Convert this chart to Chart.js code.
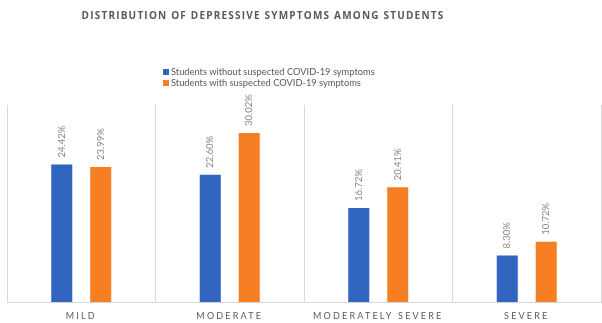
<!DOCTYPE html>
<html>
<head>
<meta charset="utf-8">
<script src="https://cdn.jsdelivr.net/npm/chart.js@4"></script>
<style>
    html, body { margin: 0; padding: 0; background: #fff; overflow: hidden; }
    #wrap { position: relative; width: 602px; height: 323px; }
    #title {
        position: absolute; left: 0; width: 526px; top: 8px;
        text-align: center; font: bold 10px "Open Sans", sans-serif;
        letter-spacing: 1.2px; color: #595959; white-space: nowrap;
    }
    #legend {
        position: absolute; left: 163px; top: 66px;
        font: 9.3px Lato, sans-serif; color: #595959; line-height: 11px;
    }
    #legend div { white-space: nowrap; }
    #legend span.box { display: inline-block; width: 6px; height: 6px; margin-right: 2px; vertical-align: 0px; }
</style>
</head>
<body>
<div id="wrap">
    <canvas id="chart" width="602" height="323"></canvas>
    <div id="title">DISTRIBUTION OF DEPRESSIVE SYMPTOMS AMONG STUDENTS</div>
    <div id="legend"></div>
</div>
<script>
    const categories = ["MILD", "MODERATE", "MODERATELY SEVERE", "SEVERE"];
    const withoutSymptoms = [24.42, 22.60, 16.72, 8.30];
    const withSymptoms = [23.99, 30.02, 20.41, 10.72];
    const seriesNames = ["Students without suspected COVID-19 symptoms", "Students with suspected COVID-19 symptoms"];
    const seriesColors = ["#3165c0", "#f57f22"];

    // simple html legend, one item per line
    const legendEl = document.getElementById("legend");
    seriesNames.forEach((name, i) => {
        const row = document.createElement("div");
        const box = document.createElement("span");
        box.className = "box";
        box.style.background = seriesColors[i];
        row.appendChild(box);
        row.appendChild(document.createTextNode(name));
        legendEl.appendChild(row);
    });

    // letter spacing for the category labels
    const spacingPlugin = {
        id: "spacing",
        beforeDraw(chart) { chart.ctx.letterSpacing = "2.2px"; },
        beforeDatasetsDraw(chart) { chart.ctx.letterSpacing = "0px"; }
    };

    // rotated value labels above the bars
    const valueLabels = {
        id: "valueLabels",
        afterDatasetsDraw(chart) {
            const ctx = chart.ctx;
            ctx.save();
            ctx.font = "9.5px Lato, sans-serif";
            ctx.fillStyle = "#8a8a8a";
            ctx.textAlign = "left";
            ctx.textBaseline = "middle";
            chart.data.datasets.forEach((ds, i) => {
                chart.getDatasetMeta(i).data.forEach((bar, j) => {
                    ctx.save();
                    ctx.translate(bar.x, bar.y - 7);
                    ctx.rotate(-Math.PI / 2);
                    ctx.fillText(ds.data[j].toFixed(2) + "%", 0, 0);
                    ctx.restore();
                });
            });
            ctx.restore();
        }
    };

    new Chart(document.getElementById("chart").getContext("2d"), {
        type: "bar",
        data: {
            labels: categories,
            datasets: [
                { label: seriesNames[0], data: withoutSymptoms, backgroundColor: seriesColors[0] },
                { label: seriesNames[1], data: withSymptoms, backgroundColor: seriesColors[1] }
            ]
        },
        options: {
            responsive: false,
            animation: false,
            events: [],
            categoryPercentage: 0.525,
            barPercentage: 0.54,
            layout: { padding: { left: 7, right: 1, top: 105, bottom: -6 } },
            plugins: {
                legend: { display: false },
                title: { display: false },
                tooltip: { enabled: false }
            },
            scales: {
                x: {
                    offset: true,
                    grid: { offset: true, color: "#d9d9d9", drawTicks: false },
                    border: { color: "#d9d9d9" },
                    ticks: { color: "#595959", padding: 8, font: { size: 9, family: "Lato, sans-serif" } }
                },
                y: { display: false, min: 0, max: 35 }
            }
        },
        plugins: [spacingPlugin, valueLabels]
    });
</script>
</body>
</html>
